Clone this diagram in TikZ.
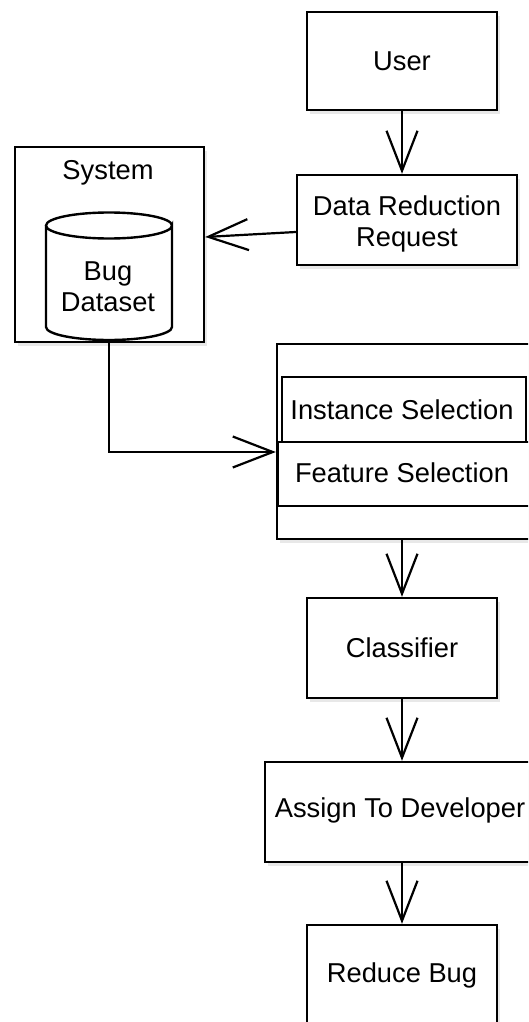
\documentclass[tikz,border=0pt]{standalone}
\usepackage{fontspec}
\setmainfont{Liberation Sans}
\usetikzlibrary{arrows.meta,shadows}
\begin{document}
\begin{tikzpicture}[x=1pt,y=-1pt,
  font=\fontsize{27.3}{31}\selectfont,
  box/.style={draw,line width=2.4pt,fill=white,inner sep=0pt,
    drop shadow={opacity=0.18,shadow xshift=3pt,shadow yshift=-4pt}},
  plain/.style={draw,line width=2.4pt,fill=white,inner sep=0pt},
  lbl/.style={align=center,inner sep=0pt},
  conn/.style={line width=2.2pt,-{Straight Barb[length=40pt,width=31pt,line width=2.2pt]}}]
\useasboundingbox (0,0) rectangle (528,1022);
\clip (0,0) rectangle (528,1022);
\fill[white] (0,0) rectangle (528,1022);

% User
\node[box,minimum width=190pt,minimum height=98pt] (user) at (402,61) {};
\node[lbl] (userl) at (402,61) {User};
% Data reduction request
\node[box,minimum width=220pt,minimum height=90pt] (drr) at (407,220) {};
\node[lbl] (drrl) at (407,224) {Data Reduction\\Request};
% System
\node[box,minimum width=189pt,minimum height=195pt] (sys) at (109.5,244.5) {};
\node[lbl] (sysl) at (108,173) {System};
% Cylinder (Bug Dataset)
\draw[line width=2.4pt,fill=white]
  (46,225.5) -- (46,327) arc[start angle=180,end angle=0,x radius=63,y radius=13]
  -- (172,225.5) arc[start angle=0,end angle=360,x radius=63,y radius=13];
\coordinate (cylbot) at (109,340);
\node[lbl] (bug) at (108,287) {Bug\\Dataset};
% Big box
\node[box,minimum width=258pt,minimum height=195pt] (big) at (406,441.5) {};
\node[plain,minimum width=244pt,minimum height=65pt] (inst) at (404,409.5) {};
\node[lbl] (instl) at (402,410) {Instance Selection};
\node[plain,minimum width=257pt,minimum height=64pt] (feat) at (406.5,474) {};
\node[lbl] (featl) at (402,473) {Feature Selection};
% Classifier
\node[box,minimum width=190pt,minimum height=100pt] (cls) at (402,648) {};
\node[lbl] (clsl) at (402,648) {Classifier};
% Assign
\node[box,minimum width=270pt,minimum height=100pt] (asg) at (400,812) {};
\node[lbl] (asgl) at (400,810) {Assign To Developer};
% Reduce bug
\node[box,minimum width=190pt,minimum height=105pt] (red) at (402,977.5) {};
\node[lbl] (redl) at (402,975) {Reduce Bug};

% connectors
\draw[conn] (user.south) -- (user.south |- drr.north);
\draw[conn] (drr.west |- 0,232) -- (sys.east |- 0,237);
\draw[conn] (cylbot) -- (109,452) -- (big.west |- 0,452);
\draw[conn] (big.south -| 402,0) -- (cls.north);
\draw[conn] (cls.south) -- (cls.south |- asg.north);
\draw[conn] (asg.south -| 402,0) -- (red.north);
\end{tikzpicture}
\end{document}
